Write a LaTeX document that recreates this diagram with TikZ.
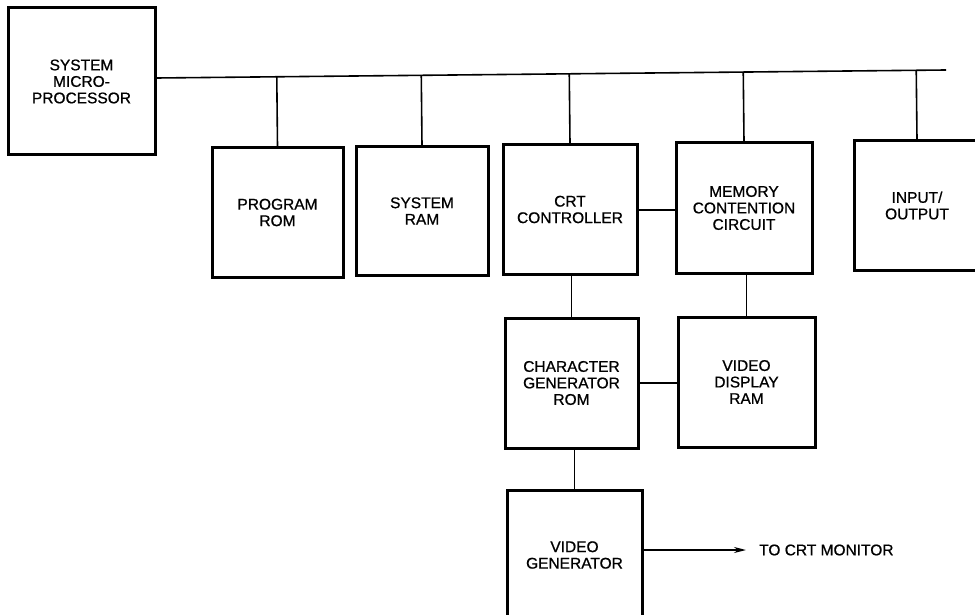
\documentclass[tikz,border=0pt]{standalone}
\usepackage{fontspec}
\setmainfont{Liberation Sans}
\newfontfamily\diagfont[FakeBold=0.8]{Liberation Sans}
\usetikzlibrary{arrows.meta,calc}
\begin{document}
\begin{tikzpicture}[x=1pt,y=-1pt,
  blk/.style={draw=black,line width=3pt,rectangle,inner sep=0pt,align=center,
    font=\diagfont\fontsize{15.5}{16.5}\selectfont},
  wire/.style={draw=black,line width=1.6pt},
  lbl/.style={font=\diagfont\fontsize{15.5}{16.5}\selectfont,inner sep=0pt,anchor=west}]
\useasboundingbox[fill=white] (0,0) rectangle (975,615);
% boxes
\node[blk,minimum width=147pt,minimum height=147pt] (cpu) at (81.5,81.5) {SYSTEM\\MICRO-\\PROCESSOR};
\node[blk,minimum width=131pt,minimum height=129pt] (prog) at (277.5,212.5) {PROGRAM\\ROM};
\node[blk,minimum width=132pt,minimum height=128pt] (sram) at (422,211) {SYSTEM\\RAM};
\node[blk,minimum width=134pt,minimum height=129pt] (crt) at (570,209.5) {CRT\\CONTROLLER};
\node[blk,minimum width=136pt,minimum height=130pt] (mem) at (744,208) {MEMORY\\CONTENTION\\CIRCUIT};
\node[blk,minimum width=126pt,minimum height=129pt] (io) at (917,205.5) {INPUT/\\OUTPUT};
\node[blk,minimum width=133pt,minimum height=130pt] (cg) at (571.5,383) {CHARACTER\\GENERATOR\\ROM};
\node[blk,minimum width=137pt,minimum height=130pt] (vdr) at (746.5,382) {VIDEO\\DISPLAY\\RAM};
\node[blk,minimum width=135pt,minimum height=130pt] (vg) at (574.5,555) {VIDEO\\GENERATOR};
\node[lbl] (mon) at (759,550) {TO CRT MONITOR};
% bus
\coordinate (busL) at (cpu.east |- 0,78);
\coordinate (busR) at (946,70);
\draw[wire] (busL) -- (busR);
\foreach \b in {prog,sram,crt,mem,io}{
  \draw[wire] (\b.north) -- ($(busL)!(\b.north)!(busR)$);
}
% local connections
\draw[wire] (crt.east |- 0,210) -- (mem.west |- 0,210);
\draw[wire] (cg.north) -- (cg.north |- crt.south);
\draw[wire] (vdr.north) -- (vdr.north |- mem.south);
\draw[wire] (cg.east |- 0,383) -- (vdr.west |- 0,383);
\draw[wire] (vg.north) -- (vg.north |- cg.south);
\draw[wire,-{Stealth[length=12pt,width=6pt]}] (vg.east |- mon.west) -- ([xshift=-13pt]mon.west);
\end{tikzpicture}
\end{document}
